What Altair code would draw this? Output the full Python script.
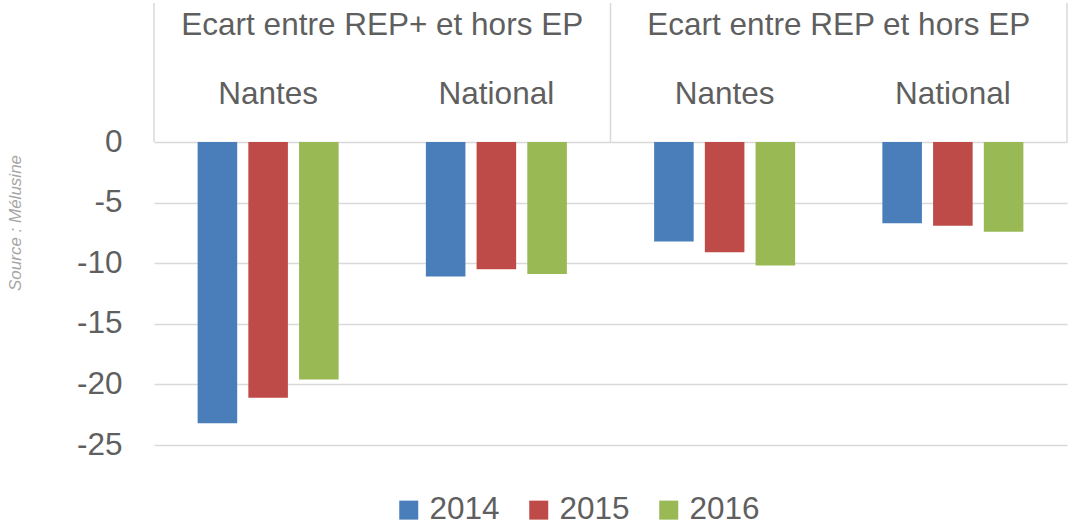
import altair as alt
import pandas as pd

sections = ["Ecart entre REP+ et hors EP", "Ecart entre REP et hors EP"]
places = ["Nantes", "National"]
years = ["2014", "2015", "2016"]
values_2014 = [-23.2, -11.1, -8.2, -6.7]
values_2015 = [-21.1, -10.5, -9.1, -6.9]
values_2016 = [-19.6, -10.9, -10.2, -7.4]
colors = ["#4A7EBB", "#BE4B48", "#98B954"]
y_ticks = [0, -5, -10, -15, -20, -25]
source_text = "Source : Mélusine"

FONT = "Liberation Sans"
TXT = "#5f5f5f"
FS = 31.5

groups = [f"{s}|{p}" for s in sections for p in places]
rows = []
for yr, vals in zip(years, [values_2014, values_2015, values_2016]):
    for g, v in zip(groups, vals):
        rows.append({"group": g, "year": yr, "value": v})
df = pd.DataFrame(rows)

xscale = alt.Scale(domain=groups, paddingInner=0, paddingOuter=0)

bars = alt.Chart(df).mark_bar().encode(
    x=alt.X("group:N", scale=xscale, axis=None),
    xOffset=alt.XOffset("year:N", scale=alt.Scale(domain=years, paddingInner=0.22, paddingOuter=0.86)),
    y=alt.Y("value:Q", scale=alt.Scale(domain=[-25, 0], nice=False),
            axis=alt.Axis(values=y_ticks, grid=True, gridColor="#d9d9d9", gridWidth=1.5,
                          domain=False, ticks=False, labelFontSize=FS, labelColor=TXT,
                          labelFont=FONT, labelPadding=32, title=None,
                          labelExpr="'' + datum.value")),
    color=alt.Color("year:N", scale=alt.Scale(domain=years, range=colors),
                    legend=alt.Legend(orient="none", legendX=239, legendY=352, direction="horizontal",
                                      title=None, symbolType="square", symbolSize=361,
                                      symbolStrokeWidth=0, labelFontSize=FS, labelFont=FONT,
                                      labelColor=TXT, labelOffset=5, columnPadding=23, padding=0)),
)

place_df = pd.DataFrame({"group": groups, "label": [p for s in sections for p in places]})
place_text = alt.Chart(place_df).mark_text(font=FONT, fontSize=FS, color=TXT, baseline="middle").encode(
    x=alt.X("group:N", scale=xscale, axis=None),
    y=alt.value(-47),
    text="label:N",
)

sec_df = pd.DataFrame({"group": [f"{s}|{places[1]}" for s in sections], "label": sections})
sec_text = alt.Chart(sec_df).mark_text(font=FONT, fontSize=FS, color=TXT, baseline="middle").encode(
    x=alt.X("group:N", scale=xscale, axis=None, bandPosition=0),
    y=alt.value(-116),
    text="label:N",
)

left_df = pd.DataFrame({"group": [f"{s}|{places[0]}" for s in sections]})
left_rules = alt.Chart(left_df).mark_rule(color="#d9d9d9", strokeWidth=1.5).encode(
    x=alt.X("group:N", scale=xscale, axis=None, bandPosition=0),
    y=alt.value(-139), y2=alt.value(0),
)
right_df = pd.DataFrame({"group": [groups[-1]]})
right_rules = alt.Chart(right_df).mark_rule(color="#d9d9d9", strokeWidth=1.5).encode(
    x=alt.X("group:N", scale=xscale, axis=None, bandPosition=1),
    y=alt.value(-139), y2=alt.value(0),
)

src = alt.Chart(pd.DataFrame({"t": [source_text]})).mark_text(
    font=FONT, fontSize=17, fontStyle="italic", color="#a6a6a6", angle=270,
    align="center", baseline="middle").encode(
    x=alt.value(-138), y=alt.value(81), text="t:N")

chart = alt.layer(left_rules, right_rules, bars, place_text, sec_text, src).properties(
    width=913, height=303,
    padding={"left": 154, "top": 142, "right": 1, "bottom": 82},
    autosize=alt.AutoSizeParams(type="none"),
).configure_view(stroke=None)

chart.save("out.html", embed_options={"renderer": "svg", "actions": False})
